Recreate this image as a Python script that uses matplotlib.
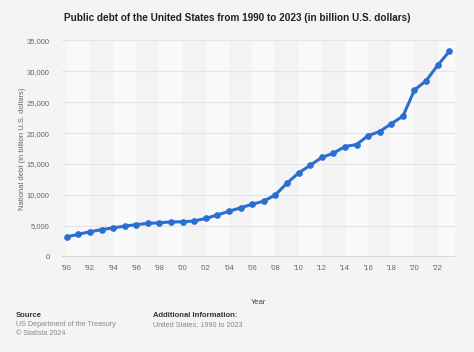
import numpy as np
import matplotlib.pyplot as plt

years = list(range(1990, 2024))
debt = [3233, 3665, 4065, 4411, 4693, 4974, 5225, 5413, 5526, 5656,
        5674, 5807, 6228, 6783, 7379, 7933, 8507, 9008, 10025, 11910,
        13562, 14790, 16066, 16738, 17824, 18151, 19573, 20245, 21516, 22719,
        26945, 28429, 30929, 33167]
xtick_years = list(range(1990, 2024, 2))
xtick_labels = ["'%02d" % (y % 100) for y in xtick_years]
ytick_vals = list(range(0, 35001, 5000))

plt.rcParams['font.family'] = ['Liberation Sans', 'DejaVu Sans']

fig = plt.figure(figsize=(4.74, 3.52), dpi=100, facecolor='#f4f4f4')
ax = fig.add_axes([0.131, 0.270, 0.829, 0.616])
ax.set_facecolor('#f4f4f4')

# alternating column bands
for y0 in range(1990, 2024, 4):
    ax.axvspan(y0, y0 + 2, color='#f9f9f9', zorder=0, lw=0)
for y0 in range(1992, 2024, 4):
    ax.axvspan(y0, y0 + 2, color='#f3f3f3', zorder=0, lw=0)

for v in ytick_vals[1:]:
    ax.axhline(v, color='#e4e4e4', lw=0.8, zorder=1)
ax.axhline(0, color='#555555', lw=1.0, zorder=2)

ax.plot(years, debt, color='#2a6ed1', lw=2.2, marker='o', ms=3.8, zorder=3,
        solid_capstyle='round')

ax.set_xlim(1989.6, 2023.5)
ax.set_ylim(0, 35000)
ax.set_xticks(xtick_years)
ax.set_xticklabels(xtick_labels)
ax.set_yticks(ytick_vals)
ax.set_yticklabels(['{:,}'.format(v) for v in ytick_vals])
ax.tick_params(length=0, labelsize=5.5, colors='#666666', pad=6)
ax.tick_params(axis='y', pad=9)
for s in ax.spines.values():
    s.set_visible(False)

ax.set_ylabel('National debt (in billion U.S. dollars)', fontsize=5.5, color='#666666')
ax.yaxis.set_label_coords(-0.092, 0.5)
ax.set_xlabel('Year', fontsize=5.5, color='#444444', labelpad=19)

fig.text(0.5, 0.95, 'Public debt of the United States from 1990 to 2023 (in billion U.S. dollars)',
         ha='center', va='center', fontsize=7.2, fontweight='bold', color='#222222')

fig.text(0.034, 0.105, 'Source', fontsize=5.5, color='#333333', fontweight='bold', va='center')
fig.text(0.034, 0.077, 'US Department of the Treasury', fontsize=5.2, color='#888888', va='center')
fig.text(0.034, 0.052, '\u00a9 Statista 2024', fontsize=5.2, color='#888888', va='center')
fig.text(0.323, 0.105, 'Additional Information:', fontsize=5.5, color='#333333', fontweight='bold', va='center')
fig.text(0.323, 0.077, 'United States; 1990 to 2023', fontsize=5.2, color='#888888', va='center')

fig.savefig('out.png', dpi=100, facecolor=fig.get_facecolor())
